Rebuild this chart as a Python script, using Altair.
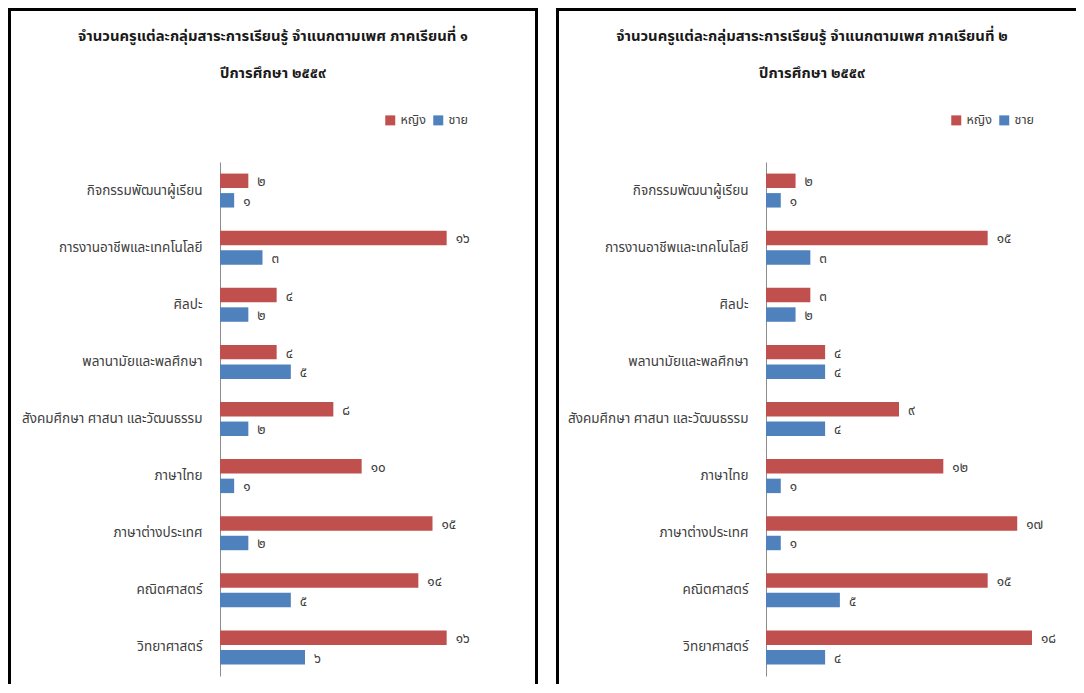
import altair as alt
import pandas as pd

subjects = [
    "กิจกรรมพัฒนาผู้เรียน",
    "การงานอาชีพและเทคโนโลยี",
    "ศิลปะ",
    "พลานามัยและพลศึกษา",
    "สังคมศึกษา ศาสนา และวัฒนธรรม",
    "ภาษาไทย",
    "ภาษาต่างประเทศ",
    "คณิตศาสตร์",
    "วิทยาศาสตร์",
]
sexes = ["หญิง", "ชาย"]
colors = ["#C0504D", "#4F81BD"]

term1_female = [2, 16, 4, 4, 8, 10, 15, 14, 16]
term1_male = [1, 3, 2, 5, 2, 1, 2, 5, 6]
term2_female = [2, 15, 3, 4, 9, 12, 17, 15, 18]
term2_male = [1, 3, 2, 4, 4, 1, 1, 5, 4]

title1 = ["จำนวนครูแต่ละกลุ่มสาระการเรียนรู้ จำแนกตามเพศ ภาคเรียนที่ ๑", "ปีการศึกษา ๒๕๕๙"]
title2 = ["จำนวนครูแต่ละกลุ่มสาระการเรียนรู้ จำแนกตามเพศ ภาคเรียนที่ ๒", "ปีการศึกษา ๒๕๕๙"]

TH = str.maketrans("0123456789", "๐๑๒๓๔๕๖๗๘๙")


def frame(fem, mal):
    rows = []
    for s, a, b in zip(subjects, fem, mal):
        rows.append({"subject": s, "sex": sexes[0], "value": a, "label": str(a).translate(TH)})
        rows.append({"subject": s, "sex": sexes[1], "value": b, "label": str(b).translate(TH)})
    return pd.DataFrame(rows)


FONT = "Noto Sans Thai, Noto Sans, sans-serif"
TXT = "#404040"
H = 676


def panel(df, title, W, xr, legx, right_border, title_x):
    x = alt.X("value:Q", scale=alt.Scale(domain=[0, 18], range=xr, nice=False), axis=None)
    y = alt.Y(
        "subject:N",
        sort=subjects,
        scale=alt.Scale(range=[154, 668], paddingInner=0.405, paddingOuter=0.2025),
        axis=alt.Axis(
            title=None, orient="left", offset=-xr[0], ticks=False, domain=True,
            domainColor="#8C8C8C", labelPadding=18, labelFontSize=13.5, labelColor=TXT,
            labelFont=FONT, labelLimit=0,
        ),
    )
    yo = alt.YOffset("sex:N", sort=sexes, scale=alt.Scale(domain=sexes, paddingInner=0.26, paddingOuter=0))
    color = alt.Color(
        "sex:N",
        sort=sexes,
        scale=alt.Scale(domain=sexes, range=colors),
        legend=alt.Legend(
            title=None, orient="none", legendX=legx, legendY=106, direction="horizontal",
            symbolType="square", symbolSize=100, symbolStrokeWidth=0, labelFontSize=12.5,
            labelFont=FONT, labelColor=TXT, columnPadding=6, labelOffset=4, padding=0,
        ),
    )
    base = alt.Chart(df)
    bars = base.mark_bar().encode(x=x, y=y, yOffset=yo, color=color)
    labels = base.mark_text(
        align="left", baseline="middle", dx=9, dy=1.5, fontSize=13.5, font=FONT, color=TXT
    ).encode(x=x, y=y, yOffset=yo, text="label:N")

    tdf = pd.DataFrame({"t": ["\n".join(title)]})
    ttl = alt.Chart(tdf).mark_text(
        align="center", baseline="alphabetic", lineBreak="\n", lineHeight=37,
        fontSize=14.8, fontWeight="bold", font=FONT, color="#1a1a1a",
    ).encode(text="t:N", x=alt.value(title_x), y=alt.value(33))

    bd = alt.Chart(pd.DataFrame({"k": [0]}))
    layers = [
        bd.mark_rect(color="black").encode(x=alt.value(0), x2=alt.value(3), y=alt.value(0), y2=alt.value(H)),
        bd.mark_rect(color="black").encode(x=alt.value(0), x2=alt.value(W), y=alt.value(0), y2=alt.value(3)),
    ]
    if right_border:
        layers.append(
            bd.mark_rect(color="black").encode(x=alt.value(W - 3), x2=alt.value(W), y=alt.value(0), y2=alt.value(H))
        )
    return alt.layer(bars, labels, ttl, *layers).properties(width=W, height=H)


left = panel(frame(term1_female, term1_male), title1, 530, [212, 467], 376, True, 265)
right = panel(frame(term2_female, term2_male), title2, 520, [210, 476], 394, False, 256)

chart = (
    alt.hconcat(left, right, spacing=18)
    .resolve_scale(color="independent", x="independent", y="independent")
    .resolve_legend(color="independent")
    .configure_view(stroke=None)
    .properties(padding=0, background="white")
)

chart.save("out.html", embed_options={"renderer": "svg", "actions": False})
